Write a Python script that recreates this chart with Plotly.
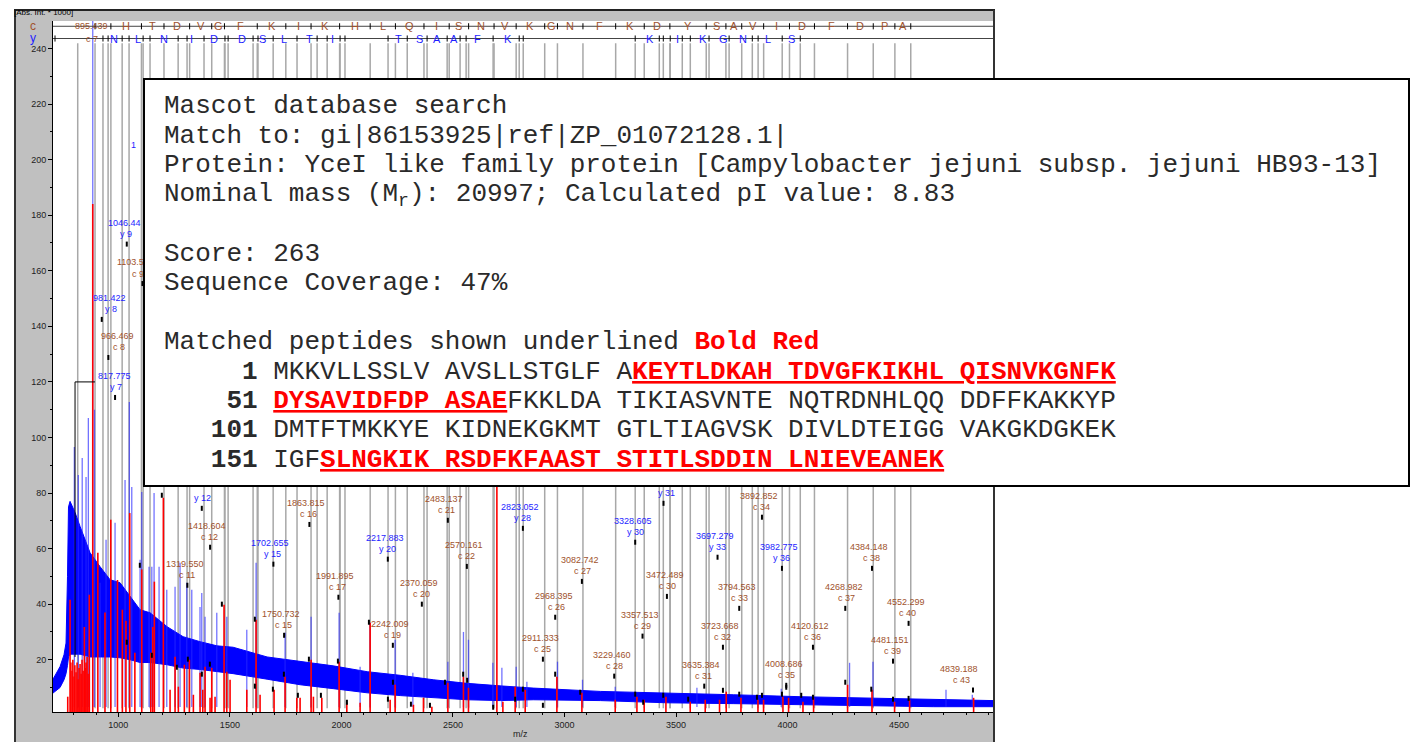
import plotly.graph_objects as go

NB = "\u00a0"
MONO = "Liberation Mono, Courier New, monospace"
NARROW = "Liberation Sans Narrow, Arial Narrow, Liberation Sans, Arial, sans-serif"
BROWN = "#a0522d"
BLUE = "#1e1eff"

# ---------------- data ----------------
# raw profile (blue): noise band envelope
band_mz = [707, 738.5, 756.4, 765.4, 772, 776.5, 783.4, 805.8, 828.3, 850.7, 873.1, 918, 962.8,
           1007.6, 1052.5, 1097.3, 1142.2, 1218.4, 1290.2, 1366.4, 1442.6, 1514.4, 1666.9, 1814.9,
           1962.9, 2115.4, 2263.4, 2411.4, 2563.8, 2711.8, 2859.8, 3160.3, 3460.7, 3756.7, 4057.2,
           4357.6, 4653.6, 4921]
band_upper = [13, 17.5, 21.8, 26, 50, 75, 77, 73, 68, 63, 58.5, 53.5, 48.8, 47.7, 42.7, 38, 36.9,
              31.9, 28.3, 26.5, 25, 24.5, 21, 19.5, 17.8, 15.7, 14.4, 12.8, 11.5, 10.6, 9.8, 8.6,
              8.1, 7.4, 6.7, 6.3, 5.9, 5.3]
band_lower = [8, 10, 12.8, 15, 18, 21, 22, 22, 22, 21.5, 21, 21, 21, 20.7, 20, 19, 19, 18.2, 17,
              16.5, 15.8, 15, 13, 11, 9.6, 8.1, 7.1, 6.3, 5.6, 5.3, 5.6, 5.3, 4.5, 4.2, 3.8,
              3.5, 3.1, 3.1]

# raw profile spikes (blue)
blue_peak_mz = [802.7, 820.6, 838, 855.1, 865.5, 885.2, 893, 918, 944.8, 985.2, 1030, 1049.3, 1060.1,
                1097.3, 1104.9, 1137.6, 1150, 1160.1, 1182.5, 1217, 1254.2, 1276.6, 1306.7, 1329.1,
                1366, 1373.9, 1388.7, 1441.2, 1486, 1575.7, 1617.4, 1747.4, 1864.1, 1989.7, 2083.8,
                2128.7, 2240.8, 2320.2, 2477.2, 2547.1, 2569.5, 2678.9, 2719.3, 2783.4, 2831.4,
                2968.6, 3080.7, 3227.4, 3593.7, 3971.7, 4278, 4382.9, 4710.3, 4828.2]
blue_peak_h = [96.6, 86.5, 92.6, 85.8, 107, 265, 110, 47.7, 63.2, 69.3, 84.7, 112.8, 82.2, 56, 80.4,
               53.5, 53.5, 80, 53.5, 45.2, 46.3, 54.9, 47.7, 45.2, 39, 44, 35.5, 36.9, 35.5, 30.8,
               54.9, 29.7, 35.5, 36.9, 17.5, 33.3, 27.2, 15.3, 19.3, 30, 27.2, 18.9, 17.1, 17.5,
               12.1, 19.3, 12.8, 10.3, 9.9, 9.6, 18.9, 19.3, 9.2, 7.4]

# centroid peak list (red sticks)
red_mz = [773.1, 783.4, 787, 792.4, 796, 801.3, 805, 810.3, 815, 819.3, 824, 828.3, 833, 837.2, 842,
          847.5, 851, 855.1, 860, 864.1, 869.9, 885.2, 908, 940, 966, 996, 1018, 1034, 1051, 1074,
          1104.9, 1145.3, 1154.2, 1161.4, 1201.7, 1231.8, 1254.2, 1269, 1295.9, 1318.3, 1336.3,
          1366.3, 1378.4, 1388.7, 1411.1, 1418.7, 1433.5, 1473.9, 1486, 1500.8, 1575.7, 1617.4,
          1635.3, 1698.1, 1747.4, 1800, 1814.7, 1864.1, 1874.4, 1912, 1989.7, 2024.2, 2083.8,
          2128.7, 2218.4, 2240.8, 2322.9, 2367.7, 2405.4, 2477.2, 2547.1, 2569.5, 2696.9, 2723.8,
          2778.9, 2823.8, 2965.9, 3078, 3227.4, 3324.7, 3357.4, 3454.7, 3563.7, 3630.9, 3695.1,
          3725.1, 3791.1, 3867.3, 3892.4, 3979.4, 4004.5, 4069.1, 4116.6, 4269.1, 4378.5, 4479.8,
          4547.1, 4834.1]
red_h = [6.7, 41.6, 19, 16, 20, 14, 18, 15.5, 19, 13, 17, 18.5, 15, 20, 16, 31.8, 17, 19, 21, 15,
         43.4, 184, 58.5, 37, 70.4, 48.7, 38, 34, 72.8, 22.5, 52.5, 22.5, 31.8, 48.1, 78.3, 9.2,
         21.1, 10.3, 18.2, 20, 7.4, 15.3, 9.2, 17.5, 6.3, 17.1, 6.7, 39.8, 15.7, 12.8, 9.2, 34.4,
         7.4, 9.2, 13.9, 6.3, 6.3, 20, 6.7, 6.3, 19.3, 4.5, 4.5, 33.3, 5.6, 11, 3.8, 6.3, 3.1, 11.7,
         13.9, 9.9, 105, 4.9, 10.3, 9.2, 13.9, 8.1, 5.6, 6.7, 5.6, 6.7, 4.9, 5.6, 5.6, 8.5, 6.3,
         5.6, 5.6, 6.7, 6.3, 4.9, 6.3, 11, 9.2, 4.9, 5.6, 6.3]

# small black peak markers
marker_mz = [1037.7, 1096.2, 1150, 1194.9, 1262.2, 1311.5, 1374.3, 1410.2, 1464, 1612, 1612, 1692.7,
             1742, 1804.8, 1854.2, 1908, 1984.2, 2024.6, 2123.2, 2208.4, 2230.9, 2311.6, 2396.8,
             2464.1, 2545.8, 2563.7, 2680.3, 2778.9, 2813.5, 2903.2, 2958.3, 3070.4, 3317, 3352.9,
             3442.6, 3554.7, 3710.3, 3783.4, 3862.8, 3885.2, 3974.9, 3994.2, 4061.4, 4113.9,
             4258.7, 4375.3, 4472.6, 4542.6]
marker_h = [27.2, 54.9, 22.5, 80.1, 18.2, 21.1, 15.7, 19.3, 40.9, 35.5, 11.4, 10.3, 15.7, 8.1, 21.1,
            8.1, 20.4, 5.6, 34.4, 6.7, 12.8, 4.9, 4.5, 12.8, 15.7, 13.5, 3.8, 6.7, 10.3, 4.5, 15.7,
            9.2, 8.5, 5.6, 8.1, 6.7, 9.9, 8.5, 7.4, 8.1, 8.5, 11, 8.1, 7.4, 12.8, 10.3, 6.7, 7]

# bracket near the precursor region
bracket_mz = [805.8, 805.8, 895.4]
bracket_h = [21, 120, 120]

# c-ion ladder (c7 ... c40) and residues between consecutive ions
c_ladder_mz = [895.44, 966.47, 1103.53, 1204.58, 1319.55, 1418.60, 1475.63, 1622.70, 1750.73,
               1863.82, 1991.90, 2128.97, 2242.01, 2370.06, 2483.14, 2570.16, 2684.21, 2783.28,
               2911.33, 2968.40, 3082.74, 3229.46, 3357.51, 3472.49, 3635.38, 3723.67, 3794.56,
               3892.85, 4008.69, 4120.61, 4268.98, 4384.15, 4481.15, 4552.30]
c_letters = ["", "H", "T", "D", "V", "G", "F", "K", "I", "K", "H", "L", "Q", "I", "S", "N", "V", "K",
             "G", "N", "F", "K", "D", "Y", "S", "A", "V", "I", "D", "F", "D", "P", "A"]

# y-ion ladder
y_ladder_mz = [716, 931, 954, 1017, 1048, 1111, 1142, 1268, 1308, 1384, 1478, 1492, 1604, 1626, 1694,
               1801, 1891, 1936, 1994, 2016, 2209, 2295, 2384, 2474, 2532, 2559, 2680, 2797, 2815,
               3317, 3425, 3443, 3474, 3528, 3564, 3648, 3738, 3842, 3868, 3976, 4057]
y_letters = ["N", "L", "N", "I", "D", "D", "S", "L", "T", "I", "T", "S", "A", "A", "F", "K", "K",
             "I", "K", "G", "N", "L", "S"]
y_letter_mz = [981, 1088, 1205, 1330, 1429, 1553, 1646, 1744, 1857, 1960, 2256, 2350, 2429, 2505,
               2608, 2747, 3384, 3505, 3622, 3711, 3801, 3913, 4017]
y_extra_line_mz = [817.8]

# peak labels
label_mass = ["1046.44", "1103.525", "981.422", "966.469", "817.775", "", "1418.604", "1319.550",
              "1702.655", "1750.732", "1863.815", "1991.895", "2217.883", "2242.009", "2370.059",
              "2483.137", "2570.161", "2823.052", "", "3328.605", "3082.742", "2968.395",
              "2911.333", "3229.460", "3357.513", "3472.489", "3635.384", "3697.279", "3723.668",
              "3794.563", "3892.852", "3982.775", "4008.686", "4120.612", "4268.982", "4384.148",
              "4481.151", "4552.299", "4839.188"]
label_ion = ["y 9", "c 9", "y 8", "c 8", "y 7", "y 12", "c 12", "c 11", "y 15", "c 15", "c 16",
             "c 17", "y 20", "c 19", "c 20", "c 21", "c 22", "y 28", "y 31", "y 30", "c 27", "c 26",
             "c 25", "c 28", "c 29", "c 30", "c 31", "y 33", "c 32", "c 33", "c 34", "y 36", "c 35",
             "c 36", "c 37", "c 38", "c 39", "c 40", "c 43"]
label_text_mz = [1034.5, 1088, 967.3, 1003.2, 989.7, 1375.3, 1406.7, 1307.9, 1689.2, 1738.5, 1850.7,
                 1980.7, 2204.9, 2227.3, 2357.4, 2469.5, 2559.2, 2810.3, 3456, 3317, 3079.4, 2962.8,
                 2900, 3222.9, 3348.4, 3460.5, 3622, 3684.8, 3707.2, 3783.4, 3882.1, 3971.7,
                 3994.2, 4110.8, 4263.2, 4375.3, 4469.5, 4539, 4778.9]
label_tick_mz = [1037.7, 1108, 925.6, 955.2, 985.2, 1374, 1411.2, 1309.4, 1695, 1743, 1856.5,
                 1986.5, 2208, 2230.5, 2360.5, 2477.1, 2562.3, 2813.5, 3443.9, 3317, 3078, 2958.3,
                 2903.2, 3222.9, 3349.8, 3459.2, 3626.5, 3686.1, 3710.3, 3783.4, 3885.2, 3974.9,
                 3994.2, 4113.9, 4258.7, 4378.5, 4472.6, 4542.6, 4831.4]
label_tick_h = [170.5, 156.3, 143.4, 129.7, 115.3, 75.4, 61.4, 47.7, 55.3, 29.7, 69.6, 43.4, 57.1,
                26.1, 40.9, 71.1, 54.5, 68.2, 77.2, 63.2, 49.1, 36.2, 21.1, 15.0, 29.4, 43.7, 11.4,
                57.8, 25.4, 39.4, 72.2, 53.8, 11.7, 25.4, 39.4, 53.8, 20.4, 34.0, 10.0]
partial_label = ("1", 1066, 205.3)  # visible fragment of a label hidden by the box
c7_label = ("895.439", "c 7", 880)

# axes
x_tick_vals = [1000, 1500, 2000, 2500, 3000, 3500, 4000, 4500]
x_tick_text = ["1000", "1500", "2000", "2500", "3000", "3500", "4000", "4500"]
x_minor_vals = list(range(800, 4901, 100))
y_tick_vals = [20, 40, 60, 80, 100, 120, 140, 160, 180, 200, 220, 240]
y_tick_text = [str(v) for v in y_tick_vals]
y_minor_vals = list(range(10, 250, 10))

# Mascot result
protein_seq = ("MKKVLLSSLVAVSLLSTGLFAKEYTLDKAHTDVGFKIKHLQISNVKGNFK"
               "DYSAVIDFDPASAEFKKLDATIKIASVNTENQTRDNHLQQDDFFKAKKYP"
               "DMTFTMKKYEKIDNEKGKMTGTLTIAGVSKDIVLDTEIGGVAKGKDGKEK"
               "IGFSLNGKIKRSDFKFAASTSTITLSDDINLNIEVEANEK")
matched_ranges = [(22, 64), (154, 190)]
line_starts = [1, 51, 101, 151]
header_lines = [
    "Mascot database search",
    "Match to: gi|86153925|ref|ZP_01072128.1|",
    "Protein: YceI like family protein [Campylobacter jejuni subsp. jejuni HB93-13]",
    ("Nominal mass (M", "r", "): 20997; Calculated pI value: 8.83"),
    "",
    "Score: 263",
    "Sequence Coverage: 47%",
    "",
    ("Matched peptides shown underlined ", "Bold Red"),
]

# ---------------- geometry ----------------
L, T, W, H = 53, 21, 940, 691
X_RANGE = [707, 4921]
Y_RANGE = [1.19, 249.9]
C_ROW, Y_ROW, LINE_TOP = 248.0, 243.6, 241.9


def px(x):
    return (x - L) / W


def py(y):
    return (T + H - y) / H


def nb(s):
    return s.replace(" ", NB)


def sticks(xs, y0s, y1s):
    X, Y = [], []
    for x, a, b in zip(xs, y0s, y1s):
        X += [x, x, None]
        Y += [a, b, None]
    return X, Y


fig = go.Figure()


def add_lines(X, Y, color, width):
    fig.add_trace(go.Scatter(x=X, y=Y, mode="lines", line=dict(color=color, width=width),
                             hoverinfo="skip", showlegend=False))


# gray ion lines
ion_lines = c_ladder_mz + y_extra_line_mz + y_ladder_mz[1:]
X, Y = sticks(ion_lines, [LINE_TOP] * len(ion_lines), [2.5] * len(ion_lines))
add_lines(X, Y, "#a8a8a8", 1.5)

# blue band
fig.add_trace(go.Scatter(x=band_mz, y=band_lower, mode="lines", line=dict(color="#0000ff", width=1),
                         hoverinfo="skip", showlegend=False))
fig.add_trace(go.Scatter(x=band_mz, y=band_upper, mode="lines", fill="tonexty", fillcolor="#0000ff",
                         line=dict(color="#0000ff", width=1), hoverinfo="skip", showlegend=False))
X, Y = sticks(blue_peak_mz, [3] * len(blue_peak_mz), blue_peak_h)
add_lines(X, Y, "rgba(40,40,255,0.65)", 1.3)

# red sticks
X, Y = sticks(red_mz, [0] * len(red_mz), red_h)
add_lines(X, Y, "#ff0000", 1.6)

# bracket
add_lines(bracket_mz, bracket_h, "black", 1)

# peak markers and label ticks
X, Y = sticks(marker_mz, [h - 1.8 for h in marker_h], marker_h)
add_lines(X, Y, "black", 2)
X, Y = sticks(label_tick_mz, [h - 1.8 for h in label_tick_h], label_tick_h)
add_lines(X, Y, "black", 2)

# ladder rows and ticks
add_lines([X_RANGE[0], X_RANGE[1], None, X_RANGE[0], X_RANGE[1]],
          [C_ROW, C_ROW, None, Y_ROW, Y_ROW], "#444444", 1)
X, Y = sticks(c_ladder_mz, [C_ROW - 1.1] * len(c_ladder_mz), [C_ROW + 1.1] * len(c_ladder_mz))
add_lines(X, Y, "black", 1)
X, Y = sticks(y_ladder_mz, [Y_ROW - 1.1] * len(y_ladder_mz), [Y_ROW + 1.1] * len(y_ladder_mz))
add_lines(X, Y, "black", 1)

ann = []
small = dict(family=NARROW, size=9)

# ladder letters
for i, letter in enumerate(c_letters):
    if letter:
        mid = (c_ladder_mz[i] + c_ladder_mz[i + 1]) / 2
        ann.append(dict(x=mid, y=C_ROW, text=letter, showarrow=False, yanchor="middle",
                        font=dict(family="Liberation Sans, Arial", size=11, color=BROWN)))
for letter, m in zip(y_letters, y_letter_mz):
    ann.append(dict(x=m, y=Y_ROW, text=letter, showarrow=False, yanchor="middle",
                    font=dict(family="Liberation Sans, Arial", size=11, color=BLUE)))
ann.append(dict(x=c7_label[2], y=C_ROW, text=c7_label[0], showarrow=False, yanchor="middle",
                font=dict(small, color=BROWN)))
ann.append(dict(x=c7_label[2] + 4, y=Y_ROW, text=c7_label[1], showarrow=False, yanchor="middle",
                font=dict(small, color=BROWN)))

# peak labels
for mass, ion, tmz, th in zip(label_mass, label_ion, label_text_mz, label_tick_h):
    col = BLUE if ion.startswith("y") else BROWN
    ann.append(dict(x=tmz, y=th, text=ion, showarrow=False, yanchor="middle", yshift=7.5,
                    font=dict(small, color=col)))
    if mass:
        ann.append(dict(x=tmz, y=th, text=mass, showarrow=False, yanchor="middle", yshift=19,
                        xshift=-2, font=dict(small, color=col)))
ann.append(dict(x=partial_label[1], y=partial_label[2], text=partial_label[0], showarrow=False,
                yanchor="middle", font=dict(small, color=BLUE)))

# frame texts
ann.append(dict(xref="paper", yref="paper", x=px(12), y=py(12), xanchor="left", yanchor="middle",
                text="[Abs. Int. * 1000]", showarrow=False, font=dict(small, size=8, color="black")))
ann.append(dict(xref="paper", yref="paper", x=px(520), y=py(734), yanchor="middle", text="m/z",
                showarrow=False, font=dict(small, color="#222")))
ann.append(dict(xref="paper", yref="paper", x=px(28), y=py(26), yanchor="middle", text="c",
                showarrow=False, font=dict(family="Liberation Sans", size=12, color=BROWN)))
ann.append(dict(xref="paper", yref="paper", x=px(28), y=py(38), yanchor="middle", text="y",
                showarrow=False, font=dict(family="Liberation Sans", size=12, color=BLUE)))

# result box (an annotation so that it covers labels beneath it)
ann.append(dict(xref="paper", yref="paper", x=px(776.5), y=py(282.5), xanchor="center",
                yanchor="middle", text=" ", showarrow=False, width=1263, height=405,
                bgcolor="white", bordercolor="black", borderwidth=2, borderpad=0))


def is_matched(pos):
    return any(a <= pos <= b for a, b in matched_ranges)


def seq_html(start):
    chunk = protein_seq[start - 1:start + 49]
    cells = []
    for i, ch in enumerate(chunk):
        pos = start + i
        if i > 0 and i % 10 == 0:
            cells.append((NB, is_matched(pos) and is_matched(pos - 1)))
        cells.append((ch, is_matched(pos)))
    html = "<b>" + nb(f"{start:>6}") + "</b>" + NB
    run, state = "", None
    for ch, m in cells + [("", None)]:
        if m != state and run:
            if state:
                html += "<span style='color:#ff0000'><b><u>" + run + "</u></b></span>"
            else:
                html += run
            run = ""
        state = m
        run += ch
    return html


box_rows = []
for item in header_lines:
    if isinstance(item, tuple) and len(item) == 3:
        box_rows.append(nb(item[0]) + "<sub>" + item[1] + "</sub>" + nb(item[2]))
    elif isinstance(item, tuple):
        box_rows.append(nb(item[0]) + "<span style='color:#ff0000'><b>" + nb(item[1]) + "</b></span>")
    else:
        box_rows.append(nb(item))
for s in line_starts:
    box_rows.append(seq_html(s))

row_y = [106, 135.5, 165, 194.5, 224, 253.5, 283, 312.5, 342, 371.5, 401, 430.5, 460]
for text, yy in zip(box_rows, row_y):
    if text:
        ann.append(dict(xref="paper", yref="paper", x=px(162), y=py(yy), xanchor="left",
                        yanchor="middle", text=text, showarrow=False,
                        font=dict(family=MONO, size=26, color="#2a2a2a")))

shapes = [
    dict(type="rect", xref="paper", yref="paper", x0=px(14), x1=px(995), y0=py(760), y1=py(9),
         fillcolor="#c0c0c0", line=dict(width=0), layer="below"),
    dict(type="rect", xref="paper", yref="paper", x0=0, x1=1, y0=0, y1=1,
         fillcolor="white", line=dict(width=0), layer="below"),
    dict(type="line", xref="paper", yref="paper", x0=px(14), x1=px(995), y0=py(10), y1=py(10),
         line=dict(color="#222", width=2), layer="above"),
    dict(type="line", xref="paper", yref="paper", x0=px(15), x1=px(15), y0=py(742), y1=py(10),
         line=dict(color="#333", width=2), layer="above"),
    dict(type="line", xref="paper", yref="paper", x0=px(994), x1=px(994), y0=py(742), y1=py(10),
         line=dict(color="#333", width=2), layer="above"),
]

axis_font = dict(family=NARROW, size=9, color="#222")
fig.update_layout(
    width=1412, height=742,
    margin=dict(l=L, r=1412 - L - W, t=T, b=742 - T - H, pad=0),
    paper_bgcolor="white", plot_bgcolor="white", showlegend=False,
    annotations=ann, shapes=shapes,
    xaxis=dict(range=X_RANGE, tickmode="array", tickvals=x_tick_vals, ticktext=x_tick_text,
               ticks="outside", ticklen=4, tickcolor="black", showline=True, linecolor="black",
               linewidth=1, showgrid=False, zeroline=False, tickfont=axis_font,
               minor=dict(tickmode="array", tickvals=x_minor_vals, ticks="outside", ticklen=2,
                          tickcolor="black", showgrid=False)),
    yaxis=dict(range=Y_RANGE, tickmode="array", tickvals=y_tick_vals, ticktext=y_tick_text,
               ticks="outside", ticklen=4, tickcolor="black", showline=True, linecolor="black",
               linewidth=1, mirror=True, showgrid=False, zeroline=False, tickfont=axis_font,
               minor=dict(tickmode="array", tickvals=y_minor_vals, ticks="outside", ticklen=2,
                          tickcolor="black", showgrid=False)),
)

fig.write_html("out.html", config={"displayModeBar": False},
               post_script="document.body.style.margin='0px';document.body.style.overflow='hidden';")
